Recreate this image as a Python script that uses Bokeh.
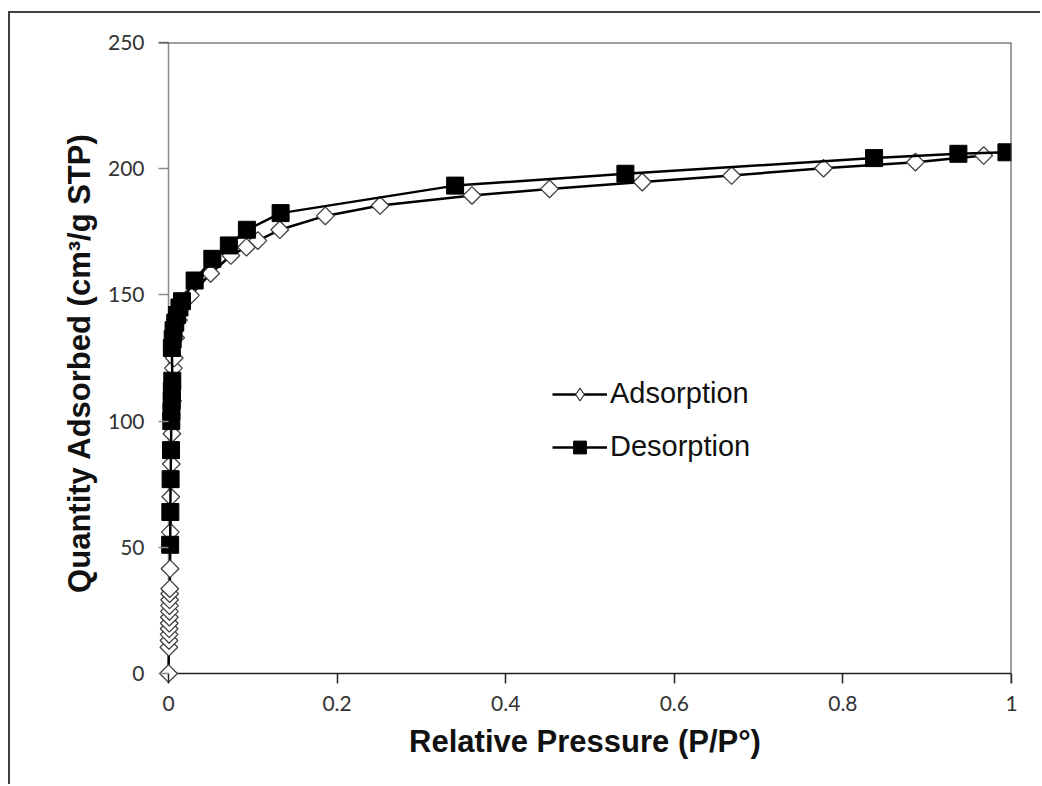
import math
from bokeh.plotting import figure
from bokeh.models import Span, Legend, LegendItem, FixedTicker, Range1d
from bokeh.embed import file_html
from bokeh.resources import INLINE

# ---- data ----
ads_p = [0.0, 0.0004, 0.0006, 0.0007, 0.0008, 0.0009, 0.0010, 0.0011, 0.0012, 0.0013,
         0.0014, 0.0015, 0.0018, 0.0022, 0.0027, 0.0033, 0.0040, 0.0048, 0.0058, 0.0068,
         0.0085, 0.0120, 0.026, 0.050, 0.074, 0.0925, 0.106, 0.132, 0.186, 0.251,
         0.360, 0.452, 0.562, 0.668, 0.777, 0.886, 0.967]
ads_q = [0.0, 10.4, 13.1, 15.5, 17.7, 19.9, 22.3, 24.6, 26.9, 29.2,
         31.6, 33.6, 41.5, 56.0, 70.0, 83.0, 95.0, 108.0, 121.0, 125.0,
         133.0, 140.0, 149.8, 158.5, 165.6, 168.9, 171.5, 175.8, 181.3, 185.4,
         189.4, 192.0, 194.7, 197.3, 200.2, 202.6, 205.2]

des_p = [0.994, 0.937, 0.837, 0.542, 0.340, 0.133, 0.093, 0.0716, 0.052, 0.031,
         0.016, 0.013, 0.010, 0.008, 0.006, 0.005, 0.004, 0.0045, 0.004, 0.0038,
         0.0035, 0.0033, 0.003, 0.0025, 0.0022, 0.002]
des_q = [206.5, 205.9, 204.2, 198.0, 193.3, 182.4, 175.8, 169.6, 164.3, 155.7,
         147.5, 145.0, 142.0, 139.0, 136.0, 132.5, 129.0, 116.0, 112.0, 108.0,
         104.0, 100.0, 88.5, 77.0, 64.0, 51.0]

x_ticks = [0, 0.2, 0.4, 0.6, 0.8, 1.0]
x_tick_labels = ["0", "0.2", "0.4", "0.6", "0.8", "1"]
y_ticks = [0, 50, 100, 150, 200, 250]
y_tick_labels = ["0", "50", "100", "150", "200", "250"]

series_names = ["Adsorption", "Desorption"]
x_title = "Relative Pressure (P/P\u00b0)"
y_title = "Quantity Adsorbed (cm\u00b3/g STP)"

# ---- figure ----
# The frame reaches 10 px beyond the axis lines (left and bottom) so that the
# markers sitting on the axes are not clipped; ticks are drawn inward from the
# frame edge so they end exactly on the axis lines.
X0, X1, Y0, Y1 = 0.0, 1.0, 0.0, 250.0
TICK = 10
pad_x = (X1 - X0) * TICK / 843
pad_y = (Y1 - Y0) * TICK / 631
p = figure(width=1032, height=773, output_backend="svg", toolbar_location=None,
           x_range=Range1d(X0 - pad_x, X1), y_range=Range1d(Y0 - pad_y, Y1),
           min_border_left=148, min_border_right=31, min_border_top=29,
           min_border_bottom=103)
p.styles = {"margin-left": "8px", "margin-top": "11px",
            "border-left": "2px solid #404040", "border-top": "2px solid #404040"}
p.outline_line_color = None
p.grid.visible = False
p.background_fill_color = "white"
p.border_fill_color = "white"

tick_font = "Lato"
tick_size = "21px"
title_font = "Liberation Sans"

p.xaxis.ticker = FixedTicker(ticks=x_ticks)
p.xaxis.major_label_overrides = dict(zip(x_ticks, x_tick_labels))
p.yaxis.ticker = FixedTicker(ticks=y_ticks)
p.yaxis.major_label_overrides = dict(zip(y_ticks, y_tick_labels))

for ax in (p.xaxis, p.yaxis):
    ax.axis_line_color = None
    ax.minor_tick_line_color = None
    ax.major_tick_in = TICK
    ax.major_tick_out = 0
    ax.major_tick_line_width = 1.5
    ax.major_label_text_font = tick_font
    ax.major_label_text_font_size = tick_size
    ax.major_label_text_color = "#333333"
    ax.axis_label_text_font = title_font
    ax.axis_label_text_font_style = "bold"
    ax.axis_label_text_font_size = "31px"
    ax.axis_label_text_color = "#111111"

p.xaxis.major_tick_line_color = "#222222"
p.xaxis.major_label_standoff = 12
p.xaxis.axis_label = x_title
p.xaxis.axis_label_standoff = 10

p.yaxis.major_tick_line_color = "#8a8a8a"
p.yaxis.major_label_standoff = 14
p.yaxis.axis_label = y_title
p.yaxis.axis_label_standoff = 8

# plot-area top and right borders
p.add_layout(Span(location=Y1, dimension="width", line_color="#404040", line_width=2))
p.add_layout(Span(location=X1, dimension="height", line_color="#404040", line_width=2))

# axis lines through the origin
p.segment(x0=[X0], y0=[Y0], x1=[X0], y1=[Y1], line_color="#8a8a8a", line_width=1.5)
p.segment(x0=[X0], y0=[Y0], x1=[X1], y1=[Y0], line_color="#222222", line_width=1.5)

# ---- series ----
a_line = p.line(ads_p, ads_q, line_color="black", line_width=2.5)
a_pts = p.scatter(ads_p, ads_q, marker="square", angle=math.pi / 4, size=12.5,
                  fill_color="white", line_color="#404040", line_width=1.3)
d_line = p.line(des_p, des_q, line_color="black", line_width=2.5)
d_pts = p.scatter(des_p, des_q, marker="square", size=17,
                  fill_color="black", line_color="black", line_width=1)

# legend-only diamond glyph (a single point outside the visible range)
a_key = p.scatter([X0 - 1], [Y0 - 100], marker="diamond", size=12,
                  fill_color="white", line_color="#404040", line_width=1.3)

legend = Legend(items=[LegendItem(label=series_names[0], renderers=[a_line, a_key]),
                       LegendItem(label=series_names[1], renderers=[d_line, d_pts])],
                location=(394, 220))
legend.padding = 0
legend.margin = 0
legend.border_line_color = None
legend.background_fill_alpha = 0
legend.glyph_width = 55
legend.glyph_height = 32
legend.label_height = 32
legend.spacing = 20
legend.label_standoff = 3
legend.label_text_font = title_font
legend.label_text_font_size = "29px"
legend.label_text_color = "#111111"
p.add_layout(legend, "center")

open("out.html", "w").write(file_html(p, INLINE))
